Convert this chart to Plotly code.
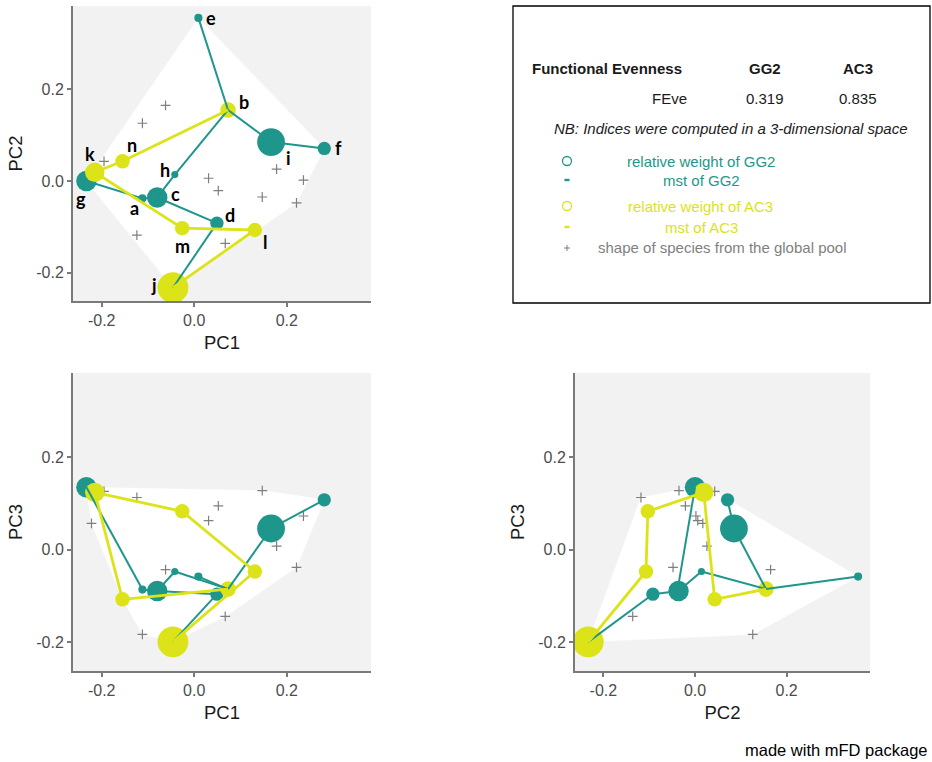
import numpy as np
import plotly.graph_objects as go

# ---------------------------------------------------------------------------
# Species coordinates in the 3-D functional space (PC1, PC2, PC3)
# ---------------------------------------------------------------------------
species = ["a", "b", "c", "d", "e", "f", "g", "h", "i", "j", "k", "l", "m", "n"]
pc1 = [-0.112, 0.073, -0.080, 0.049, 0.009, 0.281, -0.233, -0.042, 0.166, -0.046, -0.215, 0.131, -0.026, -0.155]
pc2 = [-0.038, 0.155, -0.036, -0.092, 0.356, 0.071, 0.000, 0.014, 0.085, -0.233, 0.019, -0.107, -0.103, 0.043]
pc3 = [-0.086, -0.085, -0.089, -0.096, -0.058, 0.108, 0.135, -0.047, 0.046, -0.199, 0.124, -0.047, 0.083, -0.107]

# Other species of the global pool (shown as "+")
pool_pc1 = [-0.062, -0.112, -0.195, 0.031, 0.052, 0.178, 0.236, 0.147, 0.221, -0.124, 0.067, -0.222]
pool_pc2 = [0.165, 0.126, 0.043, 0.006, -0.021, 0.026, 0.002, -0.035, -0.048, -0.118, -0.136, 0.017]
pool_pc3 = [-0.043, -0.183, 0.126, 0.063, 0.095, 0.008, 0.073, 0.128, -0.038, 0.113, -0.144, 0.057]

# Assemblages: relative weights of their species
gg2_species = ["a", "b", "c", "d", "e", "f", "g", "h", "i", "j"]
gg2_weight = [0.030, 0.023, 0.190, 0.080, 0.030, 0.080, 0.190, 0.023, 0.350, 0.004]
ac3_species = ["b", "j", "k", "l", "m", "n"]
ac3_weight = [0.110, 0.430, 0.170, 0.095, 0.095, 0.095]

# Minimum spanning trees of each assemblage
gg2_mst = [("e", "b"), ("b", "i"), ("i", "f"), ("b", "h"), ("h", "c"),
           ("g", "a"), ("a", "c"), ("c", "d"), ("d", "j")]
ac3_mst = [("k", "n"), ("n", "b"), ("k", "m"), ("m", "l"), ("l", "j")]

# Functional evenness values
feve_names = ["GG2", "AC3"]
feve_values = [0.319, 0.835]

axis_ticks = [-0.2, 0.0, 0.2]
axis_ticktext = ["-0.2", "0.0", "0.2"]

# ---------------------------------------------------------------------------
W, H = 932, 762
TEAL = "#1F968B"
YELLOW = "#DCE319"
POOL_GREY = "#7F7F7F"
SIZE_SCALE = 47.0  # marker diameter (px) for a weight of 1, area-proportional

coords = {"PC1": dict(zip(species, pc1)), "PC2": dict(zip(species, pc2)), "PC3": dict(zip(species, pc3))}
pool = {"PC1": pool_pc1, "PC2": pool_pc2, "PC3": pool_pc3}


def px_x(p):
    return p / W


def px_y(p):
    return 1 - p / H


def convex_hull(xs, ys):
    pts = sorted(set(zip(xs, ys)))

    def cross(o, a, b):
        return (a[0] - o[0]) * (b[1] - o[1]) - (a[1] - o[1]) * (b[0] - o[0])

    lower, upper = [], []
    for p in pts:
        while len(lower) >= 2 and cross(lower[-2], lower[-1], p) <= 0:
            lower.pop()
        lower.append(p)
    for p in reversed(pts):
        while len(upper) >= 2 and cross(upper[-2], upper[-1], p) <= 0:
            upper.pop()
        upper.append(p)
    hull = lower[:-1] + upper[:-1]
    hull.append(hull[0])
    return [h[0] for h in hull], [h[1] for h in hull]


def mst_xy(edges, kx, ky):
    xs, ys = [], []
    for s1, s2 in edges:
        xs += [coords[kx][s1], coords[kx][s2], None]
        ys += [coords[ky][s1], coords[ky][s2], None]
    return xs, ys


# panels: (x variable, y variable, x axis id, y axis id, x domain px, y domain px, labels?)
panels = [
    ("PC1", "PC2", "x", "y", (73, 371), (6, 301), True),
    ("PC1", "PC3", "x2", "y2", (73, 371), (373, 671), False),
    ("PC2", "PC3", "x3", "y3", (575, 870), (373, 671), False),
]

# label offsets (px) for the species names in the first panel
label_offsets = {
    "e": (13, 0), "b": (16, 8), "i": (17, -16), "f": (14, 0), "h": (-10, 5),
    "c": (18, 3), "a": (-8, -10), "g": (-5, -18), "k": (-5, 18), "n": (9, 16),
    "d": (13, 8), "m": (0, -18), "l": (10, -12), "j": (-19, 3),
}

fig = go.Figure()
annotations = []
layout_axes = {}

for kx, ky, xa, ya, (x0, x1), (y0, y1), with_labels in panels:
    # hull of the global pool
    all_x = [coords[kx][s] for s in species] + pool[kx]
    all_y = [coords[ky][s] for s in species] + pool[ky]
    hx, hy = convex_hull(all_x, all_y)
    fig.add_trace(go.Scatter(x=hx, y=hy, mode="lines", fill="toself", fillcolor="white",
                             line=dict(color="white", width=0.5), hoverinfo="skip",
                             showlegend=False, xaxis=xa, yaxis=ya))
    # global pool species
    fig.add_trace(go.Scatter(x=pool[kx], y=pool[ky], mode="markers",
                             marker=dict(symbol="cross-thin", size=7,
                                         line=dict(color=POOL_GREY, width=1.2)),
                             showlegend=False, xaxis=xa, yaxis=ya))
    # weighted species of each assemblage
    for sp_list, wts, col in [(gg2_species, gg2_weight, TEAL), (ac3_species, ac3_weight, YELLOW)]:
        fig.add_trace(go.Scatter(x=[coords[kx][s] for s in sp_list], y=[coords[ky][s] for s in sp_list],
                                 mode="markers",
                                 marker=dict(color=col, size=[SIZE_SCALE * np.sqrt(w) for w in wts],
                                             line=dict(width=0), opacity=1),
                                 showlegend=False, xaxis=xa, yaxis=ya))
    # minimum spanning trees
    for edges, col, lw in [(gg2_mst, TEAL, 2.0), (ac3_mst, YELLOW, 2.8)]:
        mx, my = mst_xy(edges, kx, ky)
        fig.add_trace(go.Scatter(x=mx, y=my, mode="lines", line=dict(color=col, width=lw),
                                 showlegend=False, xaxis=xa, yaxis=ya))
    if with_labels:
        for s in species:
            dx, dy = label_offsets[s]
            annotations.append(dict(x=coords[kx][s], y=coords[ky][s], xref=xa, yref=ya,
                                    text="<b>%s</b>" % s, showarrow=False, xshift=dx, yshift=dy,
                                    font=dict(family="Lato", size=18, color="black")))

    axis_name_x = "xaxis" if xa == "x" else "xaxis" + xa[1:]
    axis_name_y = "yaxis" if ya == "y" else "yaxis" + ya[1:]
    common = dict(range=[-0.262, 0.382], tickvals=axis_ticks, ticktext=axis_ticktext,
                  showgrid=False, zeroline=False, showline=True, linecolor="#7A7A7A",
                  linewidth=2, ticks="outside", ticklen=4, tickwidth=1.5, tickcolor="#7A7A7A",
                  tickfont=dict(family="Liberation Sans", size=16, color="#4D4D4D"),
                  title_font=dict(family="Liberation Sans", size=18.5, color="#1A1A1A"))
    layout_axes[axis_name_x] = dict(common, domain=[px_x(x0), px_x(x1)], anchor=ya,
                                    title=dict(text=kx, standoff=8))
    layout_axes[axis_name_y] = dict(common, domain=[px_y(y1), px_y(y0)], anchor=xa,
                                    title=dict(text=ky, standoff=9))

# ---------------------------------------------------------------------------
# Summary box with the index values and the key
# ---------------------------------------------------------------------------
shapes = [dict(type="rect", xref="paper", yref="paper", x0=px_x(513), x1=px_x(930),
               y0=px_y(303), y1=px_y(6), line=dict(color="black", width=1.3))]

txt_font = "Liberation Sans"


def box_text(text, x, y, color="#1A1A1A", size=15, anchor="center"):
    annotations.append(dict(x=px_x(x), y=px_y(y), xref="paper", yref="paper", text=text,
                            showarrow=False, xanchor=anchor, yanchor="middle",
                            font=dict(family=txt_font, size=size, color=color)))


box_text("<b>Functional Evenness</b>", 530, 68, anchor="left")
col_x = [765, 858]
for name, val, cx in zip(feve_names, feve_values, col_x):
    box_text("<b>%s</b>" % name, cx, 68)
    box_text("%.3f" % val, cx, 98)
box_text("FEve", 669, 98)
box_text("<i>NB: Indices were computed in a 3-dimensional space</i>", 731, 128)

key_rows = [
    ("circle", TEAL, "relative weight of GG2", 161, 701),
    ("dash", TEAL, "mst of GG2", 180, 701),
    ("circle", YELLOW, "relative weight of AC3", 206, 700),
    ("dash", YELLOW, "mst of AC3", 227, 701),
    ("plus", POOL_GREY, "shape of species from the global pool", 248, 722),
]
for kind, col, label, y, tx in key_rows:
    kx0 = 567
    if kind == "circle":
        shapes.append(dict(type="circle", xref="paper", yref="paper",
                           x0=px_x(kx0 - 4.5), x1=px_x(kx0 + 4.5), y0=px_y(y + 4.5), y1=px_y(y - 4.5),
                           line=dict(color=col, width=1.3)))
    elif kind == "dash":
        shapes.append(dict(type="rect", xref="paper", yref="paper",
                           x0=px_x(kx0 - 2.5), x1=px_x(kx0 + 2.5), y0=px_y(y + 1.2), y1=px_y(y - 1.2),
                           fillcolor=col, line=dict(width=0)))
    else:
        shapes.append(dict(type="line", xref="paper", yref="paper",
                           x0=px_x(kx0 - 3), x1=px_x(kx0 + 3), y0=px_y(y), y1=px_y(y),
                           line=dict(color=col, width=1)))
        shapes.append(dict(type="line", xref="paper", yref="paper",
                           x0=px_x(kx0), x1=px_x(kx0), y0=px_y(y + 3), y1=px_y(y - 3),
                           line=dict(color=col, width=1)))
    box_text(label, tx, y, color=col)

annotations.append(dict(x=px_x(930), y=px_y(750), xref="paper", yref="paper",
                        text="made with mFD package", showarrow=False, xanchor="right",
                        yanchor="middle", font=dict(family=txt_font, size=16.5, color="black")))

fig.update_layout(
    width=W, height=H, margin=dict(l=0, r=0, t=0, b=0),
    paper_bgcolor="white", plot_bgcolor="#F2F2F2",
    showlegend=False, annotations=annotations, shapes=shapes,
    **layout_axes,
)

fig.write_html("out.html")
